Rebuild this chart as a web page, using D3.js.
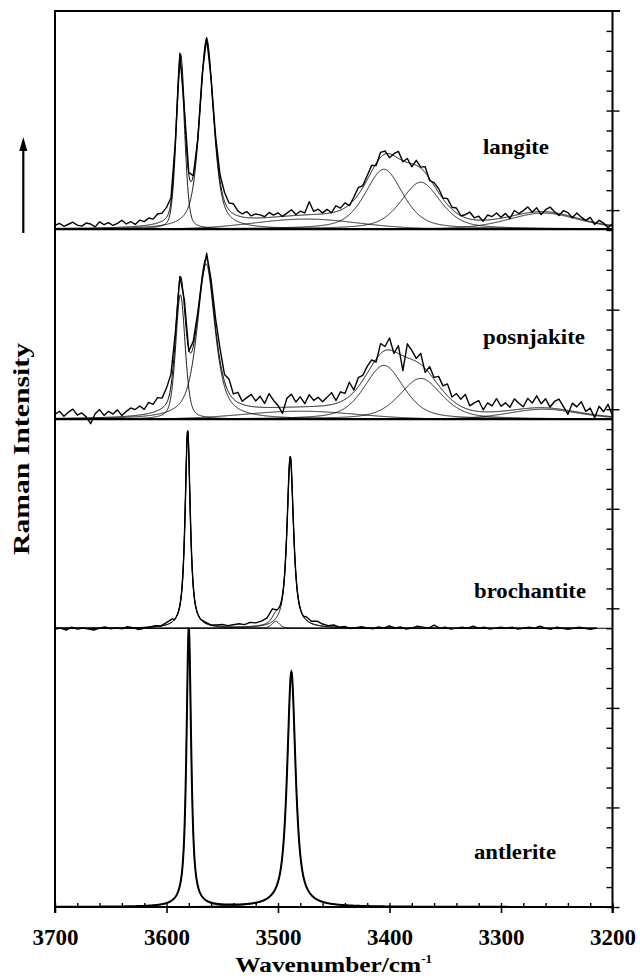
<!DOCTYPE html>
<html><head><meta charset="utf-8">
<script src="https://cdn.jsdelivr.net/npm/d3@7"></script>
<style>body{margin:0;background:#fff}svg{display:block}</style>
</head><body>
<script>
// ---------------- data ----------------
const minerals = ["langite", "posnjakite", "brochantite", "antlerite"];
const stackOffsets = [6.81, 4.90, 2.80, 0];           // intensity units (right axis)
const spectrumRanges = [[3700, 3200], [3700, 3200], [3700, 3214], [3700, 3225]];

// fitted band parameters (center cm-1, height, FWHM, Lorentzian fraction)
const langiteCenters = [3587.5, 3564, 3475, 3405, 3372, 3262];
const langiteHeights = [1.64, 1.87, 0.10, 0.60, 0.47, 0.16];
const langiteFwhm    = [9, 15, 110, 40, 42, 75];
const langiteLorentz = [0.3, 0.6, 0, 0.5, 0.5, 0.3];

const posnjakiteCenters = [3587.5, 3564.5, 3480, 3405, 3372, 3262];
const posnjakiteHeights = [1.25, 1.56, 0.08, 0.54, 0.41, 0.10];
const posnjakiteFwhm    = [10, 19, 120, 42, 45, 75];
const posnjakiteLorentz = [0.4, 0.7, 0, 0.5, 0.5, 0.3];

const brochantiteCenters = [3581, 3502, 3489];
const brochantiteHeights = [1.98, 0.07, 1.72];
const brochantiteFwhm    = [5.5, 8, 7];
const brochantiteLorentz = [0.85, 0.5, 0.85];

const antleriteCenters = [3580, 3488];
const antleriteHeights = [2.80, 2.36];
const antleriteFwhm    = [5, 9];
const antleriteLorentz = [0.85, 0.85];

// measured spectrum minus fit (x0.01 intensity), langite & posnjakite every 4 cm-1 from 3700
const langiteResidual = [3,5,2,4,6,3,2,5,4,1,6,3,5,2,4,7,3,5,2,6,4,
  7,5,9,8,10,
  4,-2,3,-1,2,0,-3,2,1,-2,
  3,6,9,7,10,5,3,6,2,4,
  3,1,5,2,4,0,3,6,1,4,2,13,3,5,1,
  4,0,6,2,5,-1,3,7,2,4,
  6,-2,5,3,-4,2,7,-1,4,-3,5,1,6,-2,3,
  4,1,6,2,5,0,3,7,2,4,-1,5,3,6,1,
  4,-2,5,1,3,6,0,4,-3,2,5,1,-2,4,3,-1,5,2,0,4,-2,3,1,-3,2];
const posnjakiteResidual = [4,7,2,6,9,3,5,1,-6,4,8,2,6,3,7,1,5,8,
  6,9,5,11,8,13,10,15,
  12,4,2,8,-2,5,2,-4,6,6,
  9,12,7,14,5,10,3,8,12,6,
  11,4,14,7,2,-6,9,13,5,10,3,12,6,9,4,
  8,12,3,10,6,14,2,9,5,7,
  6,-3,10,4,12,-2,8,-15,14,9,3,11,-4,7,2,
  9,5,12,3,10,7,14,4,8,11,2,9,6,13,5,
  8,3,11,6,2,10,5,12,4,9,1,7,10,3,-4,8,5,11,2,6,-3,9,4,12,1];
// brochantite every 5 cm-1 from 3700
const brochantiteResidual = [-1,0,-2,1,-1,0,-1,-2,0,1,-1,0,-1,1,0,-2,-1,0,1,0,2,
  3,2,3,2,1,2,1,0,1,2,1,2,3,2,4,3,4,5,8,6,
  1,0,1,0,3,2,4,2,1,2,0,1,-1,0,1,0,-1,1,0,2,
  0,1,-1,0,2,1,0,3,0,1,-1,0,1,0,2,0,1,-1,0,1,
  0,1,-1,0,1,0,2,0,-1,1,0,-1,0,1,0,-1,0];

const xMajorTicks = [3700, 3600, 3500, 3400, 3300, 3200];
const xLabel = "Wavenumber/cm";
const yLabel = "Raman Intensity";

// ---------------- chart ----------------
const W = 640, H = 978;
const svg = d3.select("body").append("svg").attr("width", W).attr("height", H);
const x = d3.scaleLinear().domain([3700, 3200]).range([55, 612.5]);
const y = d3.scaleLinear().domain([0, 9]).range([907, 11]);
const FONT = "'Liberation Serif','Times New Roman',serif";

svg.append("defs").append("clipPath").attr("id", "plot")
  .append("rect").attr("x", 55).attr("y", 11).attr("width", 557.5).attr("height", 896);

function pv(w, b) {
  const u = (w - b.c) / b.f;
  return b.h * (b.e / (1 + 4 * u * u) + (1 - b.e) * Math.exp(-4 * Math.LN2 * u * u));
}
function bands(c, h, f, e) { return c.map((v, i) => ({c: v, h: h[i], f: f[i], e: e[i]})); }
const allBands = [
  bands(langiteCenters, langiteHeights, langiteFwhm, langiteLorentz),
  bands(posnjakiteCenters, posnjakiteHeights, posnjakiteFwhm, posnjakiteLorentz),
  bands(brochantiteCenters, brochantiteHeights, brochantiteFwhm, brochantiteLorentz),
  bands(antleriteCenters, antleriteHeights, antleriteFwhm, antleriteLorentz)
];
const env = (w, bs) => d3.sum(bs, b => pv(w, b));

const plot = svg.append("g").attr("clip-path", "url(#plot)");

minerals.forEach((m, k) => {
  const off = stackOffsets[k], bs = allBands[k], r = spectrumRanges[k];
  const line = d3.line().x(d => x(d[0])).y(d => y(d[1] + off));
  const grid = d3.range(r[0], r[1] - 0.001, -0.25);
  // baseline
  plot.append("line").attr("x1", x(3700)).attr("x2", x(3200)).attr("y1", y(off)).attr("y2", y(off))
    .attr("stroke", "#000").attr("stroke-width", k === 2 ? 1.2 : 2.2);
  // components
  bs.forEach(b => {
    plot.append("path").datum(grid.map(w => [w, pv(w, b)])).attr("d", line)
      .attr("fill", "none").attr("stroke", "#000").attr("stroke-width", 0.9);
  });
  // envelope
  plot.append("path").datum(grid.map(w => [w, env(w, bs)])).attr("d", line)
    .attr("fill", "none").attr("stroke", "#000").attr("stroke-width", k === 3 ? 2 : 1);
  // measured
  let obs = null;
  if (k === 0 || k === 1) {
    const res = k === 0 ? langiteResidual : posnjakiteResidual;
    obs = res.map((v, i) => { const w = 3700 - 4 * i; return [w, env(w, bs) + v / 100]; });
  } else if (k === 2) {
    const peaks = [3581, 3489];
    const near = w => peaks.some(p => Math.abs(w - p) <= 12);
    obs = brochantiteResidual.map((v, i) => [3700 - 5 * i, v])
      .filter(d => !near(d[0])).map(d => [d[0], env(d[0], bs) + d[1] / 100]);
    grid.filter(near).forEach(w => obs.push([w, env(w, bs)]));
    obs.sort((a, b) => b[0] - a[0]);
  }
  if (obs) {
    plot.append("path").datum(obs).attr("d", line)
      .attr("fill", "none").attr("stroke", "#000").attr("stroke-width", 1.4)
      .attr("stroke-linejoin", "round");
  }
});

// panel labels
const labelPos = [[483, 153.5, 66], [483, 343.5, 102], [474, 598, 112], [474, 859, 82]];
minerals.forEach((m, k) => {
  svg.append("text").attr("x", labelPos[k][0]).attr("y", labelPos[k][1])
    .attr("textLength", labelPos[k][2]).attr("lengthAdjust", "spacingAndGlyphs")
    .attr("font-family", FONT).attr("font-weight", "bold").attr("font-size", 21)
    .text(m);
});

// frame
const frame = svg.append("g").attr("stroke", "#000").attr("stroke-width", 2).attr("fill", "none");
frame.append("line").attr("x1", 55).attr("x2", 55).attr("y1", 10).attr("y2", 913);
frame.append("line").attr("x1", 54).attr("x2", 620).attr("y1", 11).attr("y2", 11);
frame.append("line").attr("x1", 612.5).attr("x2", 612.5).attr("y1", 10).attr("y2", 913);
frame.append("line").attr("x1", 55).attr("x2", 612.5).attr("y1", 907).attr("y2", 907);

// bottom axis
const xMinor = d3.range(3700, 3199, -20);
const gMin = svg.append("g").attr("transform", "translate(0,907)")
  .call(d3.axisBottom(x).tickValues(xMinor).tickSize(-4).tickFormat(""));
gMin.select(".domain").remove();
gMin.selectAll("line").attr("stroke-width", 1.4);
const gx = svg.append("g").attr("transform", "translate(0,907)")
  .call(d3.axisBottom(x).tickValues(xMajorTicks).tickSize(6).tickFormat(d3.format("d")));
gx.select(".domain").remove();
gx.selectAll("line").attr("stroke-width", 1.6);
gx.selectAll("text").attr("y", 38).attr("dy", 0)
  .attr("font-family", FONT).attr("font-weight", "bold").attr("font-size", 23).attr("fill", "#000");

// right axis
const yMinor = d3.range(0, 45).map(i => i / 5);
const gr = svg.append("g").attr("transform", "translate(612.5,0)")
  .call(d3.axisRight(y).tickValues(yMinor).tickSize(-6).tickFormat(""));
gr.select(".domain").remove();
gr.selectAll("line").attr("stroke-width", 1.4);
const gr2 = svg.append("g").attr("transform", "translate(612.5,0)")
  .call(d3.axisRight(y).tickValues(d3.range(0, 9)).tickSize(7).tickFormat(""));
gr2.select(".domain").remove();
gr2.selectAll("line").attr("stroke-width", 1.4);

// axis titles
const xt = svg.append("text").attr("x", 333.7).attr("y", 972).attr("text-anchor", "middle")
  .attr("font-family", FONT).attr("font-weight", "bold").attr("font-size", 22);
xt.append("tspan").attr("textLength", 186).attr("lengthAdjust", "spacingAndGlyphs").text(xLabel);
xt.append("tspan").attr("font-size", 13).attr("dy", -9).text("-1");

svg.append("text").attr("transform", "translate(29,449) rotate(-90)").attr("text-anchor", "middle")
  .attr("textLength", 212).attr("lengthAdjust", "spacingAndGlyphs")
  .attr("font-family", FONT).attr("font-weight", "bold").attr("font-size", 24).text(yLabel);

// arrow
svg.append("line").attr("x1", 23.3).attr("x2", 23.3).attr("y1", 233).attr("y2", 148)
  .attr("stroke", "#000").attr("stroke-width", 2.2);
svg.append("path").attr("d", "M23.3,137 L19.3,151 L27.3,151 Z").attr("fill", "#000");
</script>
</body></html>
